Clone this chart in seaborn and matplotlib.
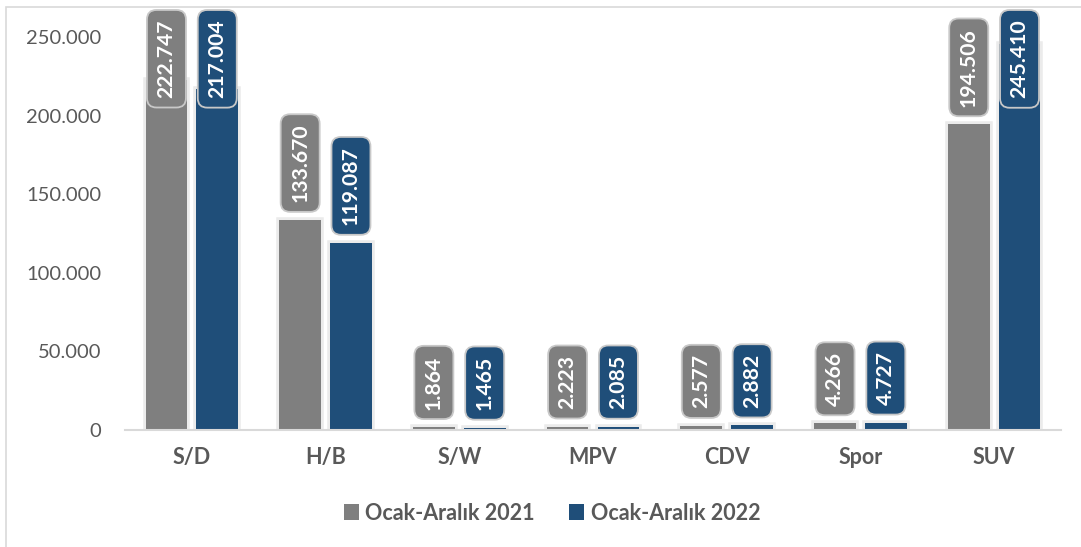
import matplotlib
matplotlib.use("Agg")
import matplotlib.pyplot as plt
import matplotlib.patheffects as pe
import seaborn as sns
import pandas as pd
from matplotlib.patches import Rectangle
from matplotlib.ticker import FuncFormatter

categories = ["S/D", "H/B", "S/W", "MPV", "CDV", "Spor", "SUV"]
series_names = ["Ocak-Aralık 2021", "Ocak-Aralık 2022"]
values_2021 = [222747, 133670, 1864, 2223, 2577, 4266, 194506]
values_2022 = [217004, 119087, 1465, 2085, 2882, 4727, 245410]
y_ticks = [0, 50000, 100000, 150000, 200000, 250000]

colors = ["#7f7f7f", "#1f4e79"]
text_gray = "#595959"

df = pd.DataFrame({
    "Kategori": categories * 2,
    "Seri": [series_names[0]] * len(categories) + [series_names[1]] * len(categories),
    "Adet": values_2021 + values_2022,
})

sns.set_theme(style="white")
plt.rcParams["font.family"] = ["Lato", "DejaVu Sans"]

W, H = 1081, 547
fig = plt.figure(figsize=(W / 100, H / 100), dpi=100)
ax = fig.add_axes([125 / W, 1 - 430 / H, (1061 - 125) / W, (430 - 37) / H])

sns.barplot(data=df, x="Kategori", y="Adet", hue="Seri", order=categories,
            hue_order=series_names, palette=colors, width=0.76, gap=0.18,
            saturation=1, ax=ax, legend=True, edgecolor="none")

for cont in ax.containers:
    for bar in cont:
        bar.set_path_effects([pe.Stroke(linewidth=4, foreground="#000000", alpha=0.08),
                              pe.Normal()])

ax.set_ylim(0, 250000)
ax.set_xlim(-0.5, len(categories) - 0.5)
ax.set_yticks(y_ticks)
ax.yaxis.set_major_formatter(FuncFormatter(lambda v, p: f"{int(v):,}".replace(",", ".")))
ax.set_xlabel("")
ax.set_ylabel("")
for s in ["top", "right", "left"]:
    ax.spines[s].set_visible(False)
ax.spines["bottom"].set_color("#d9d9d9")
ax.spines["bottom"].set_linewidth(1.5)
ax.spines["bottom"].set_zorder(5)
ax.tick_params(axis="y", length=0, pad=17, labelsize=14.5, labelcolor=text_gray)
ax.tick_params(axis="x", length=0, pad=12, labelsize=15.5, labelcolor=text_gray)
for lab in ax.get_xticklabels():
    lab.set_fontweight("bold")
ax.grid(False)

# data labels
fs = 15.2
pad_frac = 0.45
pad_px = pad_frac * fs * 100 / 72
px_per_unit = (430 - 37) / 250000
for cont, col in zip(ax.containers, colors):
    for bar in cont:
        v = bar.get_height()
        xc = bar.get_x() + bar.get_width() / 2
        txt = f"{int(round(v)):,}".replace(",", ".")
        bar_top_px = 430 - v * px_per_unit
        box_len = len(txt) * 12.3 + 2 * pad_px
        bbox = dict(boxstyle=f"round,pad={pad_frac},rounding_size=0.45",
                    fc=col, ec="#c8c8c8", lw=1.3)
        if bar_top_px - 8 - box_len < 10:
            ax.annotate(txt, xy=(xc, 1), xycoords=ax.get_xaxis_transform(),
                        xytext=(0, 27 - pad_px), textcoords="offset pixels",
                        rotation=90, ha="center", va="top", color="white",
                        fontsize=fs, fontweight="bold", bbox=bbox,
                        annotation_clip=False, zorder=6)
        else:
            ax.annotate(txt, xy=(xc, v), xytext=(0, 8 + pad_px),
                        textcoords="offset pixels", rotation=90, ha="center",
                        va="bottom", color="white", fontsize=fs,
                        fontweight="bold", bbox=bbox, annotation_clip=False,
                        zorder=6)

# legend
handles, labels = ax.get_legend_handles_labels()
ax.legend_.remove()
leg = fig.legend(handles, labels, loc="center", bbox_to_anchor=(552 / W, 1 - 513 / H),
                 ncol=2, frameon=False, handlelength=0.7, handleheight=0.7,
                 handletextpad=0.3, columnspacing=1.6,
                 prop={"size": 15.5, "weight": "bold"})
for t in leg.get_texts():
    t.set_color(text_gray)

# outer chart border
fig.patches.append(Rectangle((6 / W, -0.1), 2, 1 - 7 / H + 0.1, transform=fig.transFigure,
                             fill=False, ec="#d9d9d9", lw=1.2))

fig.savefig("out.png", dpi=100)
